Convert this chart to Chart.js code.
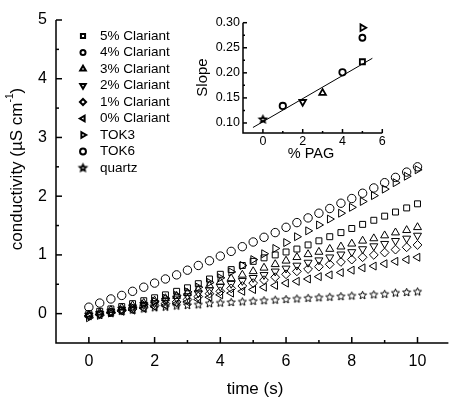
<!DOCTYPE html>
<html>
<head>
<meta charset="utf-8">
<script src="https://cdn.jsdelivr.net/npm/chart.js@4.4.0/dist/chart.umd.min.js"></script>
<style>
  body{margin:0;background:#fff;}
  #wrap{position:relative;width:454px;height:398px;overflow:hidden;}
  #main{position:absolute;left:0;top:0;}
  #inset{position:absolute;left:185px;top:0;}
</style>
</head>
<body>
<div id="wrap">
  <canvas id="main" width="454" height="398"></canvas>
  <canvas id="inset" width="210" height="165"></canvas>
</div>
<script>
// time axis (s)
const times = [0, 0.33, 0.67, 1, 1.33, 1.67, 2, 2.33, 2.67, 3, 3.33, 3.67, 4, 4.33, 4.67, 5,
               5.33, 5.67, 6, 6.33, 6.67, 7, 7.33, 7.67, 8, 8.33, 8.67, 9, 9.33, 9.67, 10];

// conductivity (uS/cm)
const clariant5 = [0.00, 0.04, 0.08, 0.12, 0.17, 0.22, 0.27, 0.32, 0.38, 0.44, 0.51, 0.59, 0.67, 0.75, 0.82, 0.89,
                   0.95, 1.00, 1.05, 1.10, 1.17, 1.24, 1.31, 1.38, 1.45, 1.52, 1.59, 1.66, 1.73, 1.80, 1.87];
const clariant4 = [];
const clariant3 = [-0.02, 0.02, 0.06, 0.10, 0.14, 0.18, 0.22, 0.26, 0.30, 0.35, 0.41, 0.48, 0.54, 0.60, 0.66, 0.72,
                   0.78, 0.84, 0.90, 0.96, 1.01, 1.05, 1.10, 1.14, 1.19, 1.24, 1.28, 1.33, 1.38, 1.42, 1.47];
const clariant2 = [-0.03, 0.00, 0.04, 0.07, 0.11, 0.15, 0.18, 0.22, 0.26, 0.30, 0.35, 0.40, 0.46, 0.51, 0.56, 0.61,
                   0.66, 0.72, 0.77, 0.82, 0.87, 0.91, 0.96, 1.01, 1.05, 1.10, 1.15, 1.19, 1.24, 1.28, 1.33];
const clariant1 = [-0.04, -0.01, 0.02, 0.05, 0.08, 0.11, 0.14, 0.17, 0.20, 0.24, 0.29, 0.34, 0.38, 0.43, 0.47, 0.52,
                   0.57, 0.62, 0.67, 0.72, 0.76, 0.80, 0.84, 0.88, 0.92, 0.96, 1.00, 1.04, 1.09, 1.13, 1.17];
const clariant0 = [-0.04, -0.02, 0.01, 0.04, 0.06, 0.09, 0.12, 0.14, 0.17, 0.20, 0.24, 0.28, 0.32, 0.35, 0.38, 0.41,
                   0.45, 0.48, 0.52, 0.55, 0.59, 0.63, 0.66, 0.70, 0.74, 0.78, 0.81, 0.85, 0.89, 0.92, 0.96];
const tok3 = [-0.07, -0.03, 0.01, 0.06, 0.11, 0.16, 0.21, 0.26, 0.31, 0.37, 0.45, 0.53, 0.61, 0.71, 0.82, 0.92,
              1.02, 1.11, 1.21, 1.31, 1.41, 1.51, 1.61, 1.71, 1.81, 1.91, 2.01, 2.12, 2.23, 2.34, 2.45];
const tok6 = [0.11, 0.18, 0.25, 0.31, 0.38, 0.45, 0.52, 0.59, 0.66, 0.74, 0.82, 0.90, 0.98, 1.06, 1.14, 1.22,
              1.30, 1.38, 1.47, 1.55, 1.63, 1.71, 1.79, 1.88, 1.96, 2.05, 2.14, 2.23, 2.32, 2.41, 2.50];
const quartz = [-0.02, 0.00, 0.02, 0.04, 0.06, 0.08, 0.10, 0.11, 0.13, 0.14, 0.15, 0.17, 0.18, 0.19, 0.20, 0.21,
                0.22, 0.23, 0.24, 0.25, 0.26, 0.27, 0.28, 0.29, 0.30, 0.31, 0.32, 0.33, 0.35, 0.36, 0.37];

const xTicks = [0, 2, 4, 6, 8, 10];
const xMinor = [1, 3, 5, 7, 9];
const yTicks = [0, 1, 2, 3, 4, 5];
const yMinor = [0.5, 1.5, 2.5, 3.5, 4.5];

// inset: slope vs % PAG
const pagPct = [0, 1, 2, 3, 4, 5, 5, 5];
const slopes = [0.107, 0.134, 0.142, 0.160, 0.201, 0.222, 0.270, 0.290];
const fitX = [-0.5, 5.5];
const fitY = [0.091, 0.229];
const insetXTicks = [0, 2, 4, 6];
const insetXMinor = [1, 3, 5];
const insetYTicks = [0.10, 0.15, 0.20, 0.25, 0.30];
const insetYMinor = [0.125, 0.175, 0.225, 0.275];

const FONT = "'Liberation Sans', Arial, sans-serif";

function makeStar(outer, inner, lw) {
    const size = Math.ceil(outer * 2 + lw * 2 + 2);
    const c = document.createElement('canvas');
    c.width = size; c.height = size;
    const g = c.getContext('2d');
    g.translate(size / 2, size / 2);
    g.beginPath();
    for (let k = 0; k < 10; k++) {
        const r = k % 2 === 0 ? outer : inner;
        const a = -Math.PI / 2 + k * Math.PI / 5;
        g.lineTo(Math.cos(a) * r, Math.sin(a) * r);
    }
    g.closePath();
    g.lineWidth = lw;
    g.strokeStyle = '#000';
    g.stroke();
    return c;
}
const starSmall = makeStar(4.2, 1.9, 1);
const starBold = makeStar(3.4, 1.6, 1.8);

const toPoints = (ys) => ys.map((y, i) => ({x: times[i], y: y}));

// style, rotation, radius
const series = [
    {label: '5% Clariant', data: clariant5, style: 'rect', rot: 0, r: 4.2},
    {label: '4% Clariant', data: clariant4, style: 'circle', rot: 0, r: 3.6},
    {label: '3% Clariant', data: clariant3, style: 'triangle', rot: 0, r: 4.6},
    {label: '2% Clariant', data: clariant2, style: 'triangle', rot: 180, r: 4.6},
    {label: '1% Clariant', data: clariant1, style: 'rectRot', rot: 0, r: 4.4},
    {label: '0% Clariant', data: clariant0, style: 'triangle', rot: -90, r: 4.6},
    {label: 'TOK3', data: tok3, style: 'triangle', rot: 90, r: 4.6},
    {label: 'TOK6', data: tok6, style: 'circle', rot: 0, r: 4.2},
    {label: 'quartz', data: quartz, style: starSmall, legendStyle: starBold, rot: 0, r: 4.2}
];

const inwardAxes = {
    id: 'inwardAxes',
    afterDraw(chart, args, o) {
        const {ctx, chartArea: a, scales} = chart;
        ctx.save();
        ctx.strokeStyle = '#000';
        ctx.lineWidth = o.lineWidth;
        ctx.beginPath();
        ctx.moveTo(a.left, a.top);
        ctx.lineTo(a.left, a.bottom);
        ctx.lineTo(a.right, a.bottom);
        ctx.stroke();
        const drawTicks = (axis, vals, len) => vals.forEach(v => {
            ctx.beginPath();
            if (axis === 'x') {
                const px = scales.x.getPixelForValue(v);
                ctx.moveTo(px, a.bottom); ctx.lineTo(px, a.bottom - len);
            } else {
                const py = scales.y.getPixelForValue(v);
                ctx.moveTo(a.left, py); ctx.lineTo(a.left + len, py);
            }
            ctx.stroke();
        });
        drawTicks('x', o.xMajor, o.majorLen);
        drawTicks('x', o.xMinor, o.minorLen);
        drawTicks('y', o.yMajor, o.majorLen);
        drawTicks('y', o.yMinor, o.minorLen);

        ctx.fillStyle = '#000';
        ctx.textAlign = 'center';
        ctx.textBaseline = 'middle';
        (o.titles || []).forEach(t => {
            ctx.save();
            ctx.translate(t.x, t.y);
            if (t.rotate) ctx.rotate(-Math.PI / 2);
            ctx.font = t.size + 'px ' + FONT;
            if (t.sup) {
                const supFont = (t.size * 0.6) + 'px ' + FONT;
                const w1 = ctx.measureText(t.text).width;
                ctx.font = supFont;
                const w2 = ctx.measureText(t.sup).width;
                ctx.font = t.size + 'px ' + FONT;
                const w3 = ctx.measureText(t.tail).width;
                let x0 = -(w1 + w2 + w3) / 2;
                ctx.textAlign = 'left';
                ctx.fillText(t.text, x0, 0);
                ctx.font = supFont;
                ctx.fillText(t.sup, x0 + w1, -t.size * 0.38);
                ctx.font = t.size + 'px ' + FONT;
                ctx.fillText(t.tail, x0 + w1 + w2, 0);
            } else {
                ctx.fillText(t.text, 0, 0);
            }
            ctx.restore();
        });
        ctx.restore();
    }
};

const boxLegend = {
    id: 'boxLegend',
    afterDraw(chart, args, o) {
        if (!o.show) return;
        const ctx = chart.ctx;
        ctx.save();
        ctx.font = o.size + 'px ' + FONT;
        ctx.textBaseline = 'middle';
        ctx.textAlign = 'left';
        series.forEach((s, i) => {
            const y = o.top + i * o.step;
            ctx.strokeStyle = '#000';
            ctx.fillStyle = '#fff';
            ctx.lineWidth = 2;
            Chart.helpers.drawPoint(ctx, {
                pointStyle: s.legendStyle || s.style,
                rotation: s.rot,
                radius: s.r * 0.7,
                borderWidth: 2
            }, o.symX, y);
            ctx.fillStyle = '#000';
            ctx.fillText(s.label, o.textX, y);
        });
        ctx.restore();
    }
};

const mainChart = new Chart(document.getElementById('main').getContext('2d'), {
    type: 'scatter',
    data: {
        datasets: series.map(s => ({
            label: s.label,
            data: toPoints(s.data),
            pointStyle: s.style,
            pointRotation: s.rot,
            pointRadius: s.r,
            borderWidth: 1,
            borderColor: '#000',
            backgroundColor: 'rgba(0,0,0,0)'
        }))
    },
    options: {
        responsive: false,
        animation: false,
        layout: {padding: {top: 20, right: 0, left: 0, bottom: 0}},
        plugins: {
            legend: {display: false},
            tooltip: {enabled: false},
            inwardAxes: {
                lineWidth: 1.5, majorLen: 6, minorLen: 3,
                xMajor: xTicks, xMinor: xMinor, yMajor: yTicks, yMinor: yMinor,
                titles: [
                    {text: 'time (s)', x: 255, y: 389, size: 17},
                    {text: 'conductivity (\u00B5S cm', sup: '-1', tail: ')', x: 17, y: 169, size: 17, rotate: true}
                ]
            },
            boxLegend: {show: true, symX: 83, textX: 100, top: 36, step: 16.5, size: 13.5}
        },
        scales: {
            x: {
                type: 'linear', min: -1, max: 10.94,
                grid: {display: false, drawTicks: false},
                border: {display: false},
                afterBuildTicks: s => { s.ticks = xTicks.map(v => ({value: v})); },
                afterFit: s => { s.height = 55; },
                ticks: {font: {family: FONT, size: 16}, color: '#000', padding: 9, maxRotation: 0}
            },
            y: {
                min: -0.5, max: 5,
                grid: {display: false, drawTicks: false},
                border: {display: false},
                afterBuildTicks: s => { s.ticks = yTicks.map(v => ({value: v})); },
                afterFit: s => { s.width = 56; },
                ticks: {font: {family: FONT, size: 16}, color: '#000', padding: 9}
            }
        }
    },
    plugins: [inwardAxes, boxLegend]
});

const insetStyles = [starBold, 'circle', 'triangle', 'triangle', 'circle', 'rect', 'circle', 'triangle'];
const insetRot = [0, 0, 180, 0, 0, 0, 0, 90];
const insetRadius = [3.4, 3.2, 3.8, 3.8, 3.2, 3.6, 3.0, 3.8];

const insetChart = new Chart(document.getElementById('inset').getContext('2d'), {
    type: 'scatter',
    data: {
        datasets: [{
            label: 'slope',
            data: pagPct.map((x, i) => ({x: x, y: slopes[i]})),
            pointStyle: insetStyles,
            pointRotation: insetRot,
            pointRadius: insetRadius,
            borderWidth: 1.8,
            borderColor: '#000',
            backgroundColor: 'rgba(255,255,255,0)'
        }, {
            label: 'fit',
            data: fitX.map((x, i) => ({x: x, y: fitY[i]})),
            showLine: true,
            pointRadius: 0,
            borderWidth: 1,
            borderColor: '#000'
        }]
    },
    options: {
        responsive: false,
        animation: false,
        layout: {padding: {top: 22.7, right: 12.7, left: 0, bottom: 0}},
        plugins: {
            legend: {display: false},
            tooltip: {enabled: false},
            inwardAxes: {
                lineWidth: 1.5, majorLen: 4, minorLen: 2,
                xMajor: insetXTicks, xMinor: insetXMinor, yMajor: insetYTicks, yMinor: insetYMinor,
                titles: [
                    {text: '% PAG', x: 126, y: 154, size: 14.5},
                    {text: 'Slope', x: 17.5, y: 77.5, size: 15, rotate: true}
                ]
            },
            boxLegend: {show: false}
        },
        scales: {
            x: {
                type: 'linear', min: -1, max: 6,
                grid: {display: false, drawTicks: false},
                border: {display: false},
                afterBuildTicks: s => { s.ticks = insetXTicks.map(v => ({value: v})); },
                afterFit: s => { s.height = 32; },
                ticks: {font: {family: FONT, size: 12.5}, color: '#000', padding: 1, maxRotation: 0}
            },
            y: {
                min: 0.08, max: 0.30,
                grid: {display: false, drawTicks: false},
                border: {display: false},
                afterBuildTicks: s => { s.ticks = insetYTicks.map(v => ({value: v})); },
                afterFit: s => { s.width = 58; },
                ticks: {
                    font: {family: FONT, size: 12.5}, color: '#000', padding: 3,
                    callback: v => v.toFixed(2)
                }
            }
        }
    },
    plugins: [inwardAxes]
});
</script>
</body>
</html>
